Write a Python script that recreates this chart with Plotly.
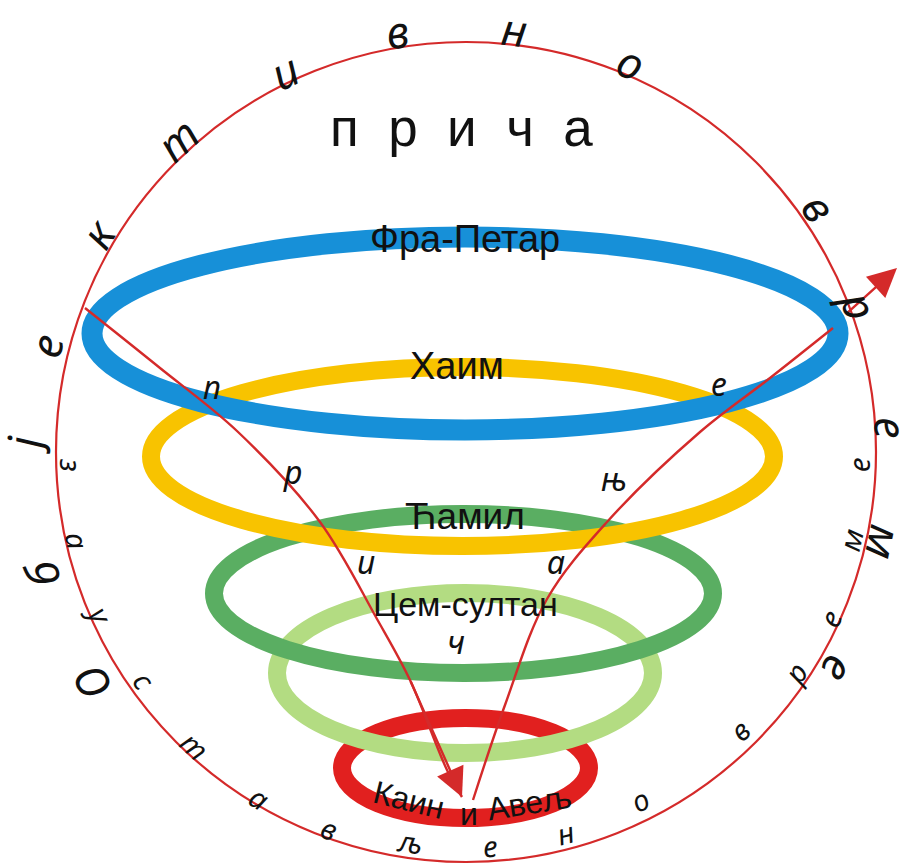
import math
import plotly.graph_objects as go

W, H = 901, 864

# big red circle
circle_cx, circle_cy, circle_r = 466, 452, 410

# rings (drawn bottom -> top)
ring_names = ["Каин и Авељ", "Цем-султан", "Ћамил", "Хаим", "Фра-Петар"]
ring_cx = [465.5, 465, 463.5, 462.5, 465]
ring_cy = [768, 673, 593.5, 456.5, 333.5]
ring_a = [123.5, 188, 249.5, 311.5, 373]
ring_b = [50, 80, 79.5, 89.5, 96.5]
ring_colors = ["#e1201f", "#b3dc82", "#5aae62", "#f8c300", "#1790d8"]
ring_widths = [18, 18, 18, 18, 21]

# ring labels (top ones)
label_text = ["Цем-султан", "Ћамил", "Хаим", "Фра-Петар"]
label_x = [465, 465, 457, 465]
label_y = [604, 516, 366, 239]
label_size = [34, 37, 38, 38]

# bottom ring label pieces (text follows the ellipse)
kain_words = ["Каин", "и", "Авељ"]
kain_x = [409, 469, 529]
kain_y = [800, 814, 803]
kain_angle = [14, 0, -9]

# funnel curves
line1_x = [85, 160, 237, 320, 377, 410, 447, 462]
line1_y = [308, 368, 431, 522, 619, 680, 770, 797]
line2_x = [473, 505, 547, 607, 700, 770, 833]
line2_y = [800, 705, 599, 522, 432, 378, 328]
arrow2_tail = (845, 315)
arrow2_tip = (897, 268)

# "причање" along the funnel
funnel_letters = ["п", "р", "и", "ч", "а", "њ", "е"]
funnel_x = [212, 292, 366, 456, 556, 614, 719]
funnel_y = [386, 471, 561, 641, 561, 478, 383]

# outer text "објективно време" (angle in degrees, counter-clockwise from east)
outer_letters = ["О", "б", "ј", "е", "к", "т", "и", "в", "н", "о", "в", "р", "е", "м", "е"]
outer_angles = [211.8, 196.1, 179.0, 165.7, 149.3, 132.7, 115.5, 99.2, 83.4, 67.0, 34.6, 20.6, 3.2, -12.2, -30.3]
outer_r = [440, 442, 443, 434, 428, 426, 422, 426, 426, 424, 430, 420, 426, 428, 432]

# inner text "заустављено време"
inner_letters = ["з", "а", "у", "с", "т", "а", "в", "љ", "е", "н", "о", "в", "р", "е", "м", "е"]
inner_angles = [181.9, 192.8, 204.0, 215.4, 227.3, 239.1, 250.1, 261.8, 273.5, 284.6, 296.6, 314.6, 326.2, 335.4, 347.2, 358.1]
inner_r = [394, 398, 400, 394, 400, 403, 400, 394, 394, 393, 389, 390, 396, 400, 394, 392]

title_text = "п\u00a0\u00a0р\u00a0\u00a0и\u00a0\u00a0ч\u00a0\u00a0а"

RED = "#d42a2a"
TXT = "#111111"
SANS = "Liberation Sans, Arial, sans-serif"
ITAL = "Noto Sans, Liberation Sans, sans-serif"

fig = go.Figure()

shapes = [dict(type="circle", xref="x", yref="y",
               x0=circle_cx - circle_r, x1=circle_cx + circle_r,
               y0=circle_cy - circle_r, y1=circle_cy + circle_r,
               line=dict(color=RED, width=2.2), layer="below")]
for cx, cy, a, b, c, w in zip(ring_cx, ring_cy, ring_a, ring_b, ring_colors, ring_widths):
    shapes.append(dict(type="circle", xref="x", yref="y",
                       x0=cx - a, x1=cx + a, y0=cy - b, y1=cy + b,
                       line=dict(color=c, width=w), layer="below"))

fig.add_trace(go.Scatter(x=line1_x, y=line1_y, mode="lines",
                         line=dict(color=RED, width=2.4, shape="spline"),
                         hoverinfo="skip", showlegend=False))
fig.add_trace(go.Scatter(x=line2_x, y=line2_y, mode="lines",
                         line=dict(color=RED, width=2.4, shape="spline"),
                         hoverinfo="skip", showlegend=False))

ann = []
# arrowheads
ann.append(dict(x=line1_x[-1], y=line1_y[-1], ax=line1_x[-3], ay=line1_y[-3],
                xref="x", yref="y", axref="x", ayref="y", text="",
                showarrow=True, arrowhead=2, arrowsize=2.4, arrowwidth=2.4, arrowcolor=RED))
ann.append(dict(x=arrow2_tip[0], y=arrow2_tip[1], ax=arrow2_tail[0], ay=arrow2_tail[1],
                xref="x", yref="y", axref="x", ayref="y", text="",
                showarrow=True, arrowhead=2, arrowsize=2.4, arrowwidth=2.4, arrowcolor=RED))

ann.append(dict(x=461, y=127, text=title_text, showarrow=False,
                font=dict(family=SANS, size=53, color=TXT)))

for t, x, y, s in zip(label_text, label_x, label_y, label_size):
    ann.append(dict(x=x, y=y, text=t, showarrow=False,
                    font=dict(family=SANS, size=s, color=TXT)))
for t, x, y, ang in zip(kain_words, kain_x, kain_y, kain_angle):
    ann.append(dict(x=x, y=y, text=t, showarrow=False, textangle=ang,
                    font=dict(family=SANS, size=32, color=TXT)))

for t, x, y in zip(funnel_letters, funnel_x, funnel_y):
    ann.append(dict(x=x, y=y, text="<i>" + t + "</i>", showarrow=False,
                    font=dict(family=ITAL, size=32, color=TXT)))

for t, th, r in zip(outer_letters, outer_angles, outer_r):
    rad = math.radians(th)
    ann.append(dict(x=circle_cx + r * math.cos(rad), y=circle_cy - r * math.sin(rad),
                    text="<i>" + t + "</i>", showarrow=False, textangle=90 - th,
                    font=dict(family=ITAL, size=44, color=TXT)))

for t, th, r in zip(inner_letters, inner_angles, inner_r):
    rad = math.radians(th)
    ann.append(dict(x=circle_cx + r * math.cos(rad), y=circle_cy - r * math.sin(rad),
                    text="<i>" + t + "</i>", showarrow=False, textangle=270 - th,
                    font=dict(family=ITAL, size=29, color=TXT)))

for a in ann:
    a.setdefault("xref", "x")
    a.setdefault("yref", "y")
    a.setdefault("xanchor", "center")
    a.setdefault("yanchor", "middle")

fig.update_layout(
    width=W, height=H,
    margin=dict(l=0, r=0, t=0, b=0),
    paper_bgcolor="white", plot_bgcolor="white",
    xaxis=dict(range=[0, W], visible=False, fixedrange=True),
    yaxis=dict(range=[H, 0], visible=False, fixedrange=True),
    shapes=shapes, annotations=ann, showlegend=False,
)

fig.write_html("out.html", config={"displayModeBar": False, "staticPlot": True},
               post_script="document.body.style.margin='0px';")
